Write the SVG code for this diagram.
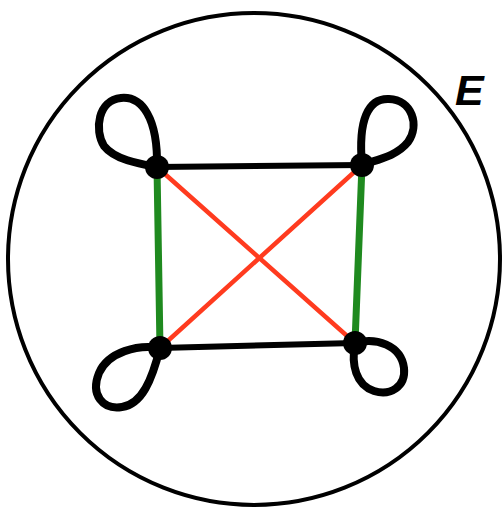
<svg xmlns="http://www.w3.org/2000/svg" width="504" height="512" viewBox="0 0 504 512">
<style>
.loop{fill:none;stroke:#000;stroke-width:8;stroke-linecap:round;stroke-linejoin:round}
.blk{stroke:#000;stroke-width:6;stroke-linecap:round}
.grn{stroke:#1f8a1f;stroke-width:7;stroke-linecap:round}
.red{stroke:#ff3b1f;stroke-width:4.5;stroke-linecap:round}
.node{fill:#000}
</style>
<rect width="504" height="512" fill="#fff"/>
<ellipse cx="254" cy="259" rx="246" ry="246" fill="none" stroke="#000" stroke-width="4"/>
<text x="455" y="105" font-family="Liberation Sans, sans-serif" font-size="43" font-weight="bold" font-style="italic" fill="#000">E</text>
<g id="connectors">
<line class="red" x1="157" y1="167" x2="355" y2="343"/>
<line class="red" x1="362" y1="165" x2="160" y2="348"/>
<line class="grn" x1="157" y1="167" x2="160" y2="348"/>
<line class="grn" x1="362" y1="165" x2="355" y2="343"/>
<line class="blk" x1="157" y1="167" x2="362" y2="165"/>
<line class="blk" x1="160" y1="348" x2="355" y2="343"/>
<path class="loop" d="M157,167 C158,118 142,96 121,98 C98,100 94,130 104,146 C115,160 140,164 157,167"/>
<path class="loop" d="M362,165 C358,120 368,98 389,99 C412,100 420,125 408,142 C396,157 375,160 362,165"/>
<path class="loop" d="M160,348 C138,344 108,352 99,373 C90,395 103,410 122,407 C142,404 152,380 160,348"/>
<path class="loop" d="M355,343 C376,337 401,345 404,368 C406,387 390,396 374,391 C356,385 351,365 355,343"/>
</g>
<g id="n1"><circle class="node" cx="157" cy="167" r="12"/></g>
<g id="n2"><circle class="node" cx="362" cy="165" r="12"/></g>
<g id="n3"><circle class="node" cx="160" cy="348" r="12"/></g>
<g id="n4"><circle class="node" cx="355" cy="343" r="12"/></g>
</svg>
